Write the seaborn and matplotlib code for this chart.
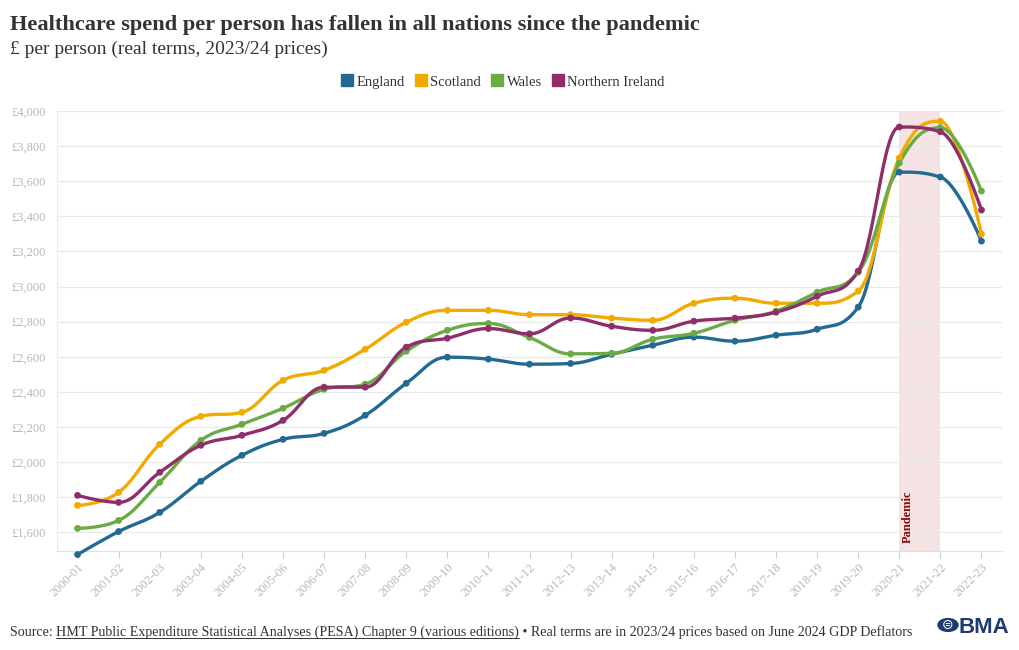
import numpy as np
import pandas as pd
import matplotlib
matplotlib.use("Agg")
import matplotlib.pyplot as plt
import seaborn as sns
from matplotlib.lines import Line2D
from matplotlib.patches import Circle

# ---------------- data ----------------
years = ["2000-01", "2001-02", "2002-03", "2003-04", "2004-05", "2005-06", "2006-07",
         "2007-08", "2008-09", "2009-10", "2010-11", "2011-12", "2012-13", "2013-14",
         "2014-15", "2015-16", "2016-17", "2017-18", "2018-19", "2019-20", "2020-21",
         "2021-22", "2022-23"]
england = [1474, 1605, 1714, 1891, 2039, 2130, 2164, 2267, 2449, 2598, 2587, 2558,
           2562, 2615, 2666, 2712, 2689, 2723, 2757, 2883, 3652, 3624, 3259]
scotland = [1754, 1828, 2102, 2261, 2284, 2466, 2523, 2643, 2797, 2865, 2865, 2840,
            2840, 2820, 2808, 2905, 2934, 2905, 2905, 2974, 3732, 3942, 3299]
wales = [1623, 1668, 1885, 2124, 2216, 2307, 2415, 2444, 2632, 2751, 2790, 2710,
         2617, 2620, 2700, 2734, 2808, 2860, 2968, 3082, 3704, 3905, 3544]
northern_ireland = [1811, 1771, 1942, 2096, 2153, 2238, 2427, 2427, 2655, 2706, 2761,
                    2731, 2821, 2774, 2751, 2803, 2820, 2854, 2945, 3088, 3909, 3882, 3436]
nations = ["England", "Scotland", "Wales", "Northern Ireland"]
colors = ["#236a93", "#f0ab00", "#6aab46", "#8e2e6b"]
yticks = [1600, 1800, 2000, 2200, 2400, 2600, 2800, 3000, 3200, 3400, 3600, 3800, 4000]
pandemic_start, pandemic_end = "2020-21", "2021-22"

series = dict(zip(nations, [england, scotland, wales, northern_ireland]))


def hc_spline(xs, ys, n=30):
    """Highcharts-style spline (cubic Bezier with smoothing 1.5)."""
    m = len(xs)
    sm = 1.5
    den = sm + 1
    lc = [None] * m
    rc = [None] * m
    for i in range(1, m - 1):
        px, py = xs[i], ys[i]
        lx, ly = xs[i - 1], ys[i - 1]
        nx, ny = xs[i + 1], ys[i + 1]
        lcx = (sm * px + lx) / den
        lcy = (sm * py + ly) / den
        rcx = (sm * px + nx) / den
        rcy = (sm * py + ny) / den
        if rcx != lcx:
            corr = ((rcy - lcy) * (rcx - px)) / (rcx - lcx) + py - rcy
            lcy += corr
            rcy += corr
        if lcy > ly and lcy > py:
            lcy = max(ly, py)
            rcy = 2 * py - lcy
        elif lcy < ly and lcy < py:
            lcy = min(ly, py)
            rcy = 2 * py - lcy
        if rcy > ny and rcy > py:
            rcy = max(ny, py)
            lcy = 2 * py - rcy
        elif rcy < ny and rcy < py:
            rcy = min(ny, py)
            lcy = 2 * py - rcy
        lc[i] = (lcx, lcy)
        rc[i] = (rcx, rcy)
    outx, outy = [xs[0]], [ys[0]]
    t = np.linspace(0, 1, n)[1:]
    for i in range(1, m):
        p0 = np.array([xs[i - 1], ys[i - 1]], float)
        p3 = np.array([xs[i], ys[i]], float)
        p1 = np.array(rc[i - 1], float) if rc[i - 1] is not None else p0
        p2 = np.array(lc[i], float) if lc[i] is not None else p3
        b = ((1 - t) ** 3)[:, None] * p0 + (3 * (1 - t) ** 2 * t)[:, None] * p1 \
            + (3 * (1 - t) * t ** 2)[:, None] * p2 + (t ** 3)[:, None] * p3
        outx.extend(b[:, 0])
        outy.extend(b[:, 1])
    return np.array(outx), np.array(outy)


xpos = np.arange(len(years))
pts = pd.DataFrame([(x, v, nat) for nat in nations for x, v in zip(xpos, series[nat])],
                   columns=["x", "value", "nation"])
dense_rows = []
for nat in nations:
    dx, dy = hc_spline(xpos, np.array(series[nat], float))
    for a, b in zip(dx, dy):
        dense_rows.append((a, b, nat))
dense = pd.DataFrame(dense_rows, columns=["x", "value", "nation"])

# ---------------- figure ----------------
sns.set_theme(style="white")
plt.rcParams["font.family"] = ["Liberation Serif", "DejaVu Serif"]

W, H = 1020, 650
fig = plt.figure(figsize=(W / 100, H / 100), dpi=100)
ax = fig.add_axes([57 / W, 1 - 550.5 / H, (1002 - 57) / W, (550.5 - 111) / H])

pal = dict(zip(nations, colors))
ps = years.index(pandemic_start)
pe = years.index(pandemic_end)
ax.axvspan(ps, pe, color="#f5e3e3", zorder=0.3, lw=0)

sns.lineplot(data=dense, x="x", y="value", hue="nation", palette=pal, sort=False,
             estimator=None, legend=False, lw=2.4, ax=ax, zorder=3, clip_on=False)
sns.scatterplot(data=pts, x="x", y="value", hue="nation", palette=pal, s=24,
                edgecolor="none", legend=False, ax=ax, zorder=4, clip_on=False)

ax.text(ps + 0.2, 1540, "Pandemic", rotation=90, color="#8b0a0a", fontsize=9,
        fontweight="bold", va="bottom", ha="center", zorder=5)

ax.set_xlim(-0.5, len(years) - 0.5)
ax.set_ylim(1497, 4000)
ax.set_xticks(xpos)
ax.set_xticklabels(years, rotation=45, ha="right", rotation_mode="anchor")
ax.set_yticks(yticks)
ax.set_yticklabels([f"£{v:,}" for v in yticks])
ax.tick_params(axis="x", colors="#d0d0d0", labelcolor="#b8b8b8", labelsize=9,
               length=5, width=0.8, direction="out", bottom=True, pad=3)
ax.tick_params(axis="y", labelcolor="#b8b8b8", labelsize=9, length=0, pad=8)
ax.set_xlabel("")
ax.set_ylabel("")
ax.set_axisbelow(True)
ax.grid(axis="y", color="#e8e8e8", lw=0.8)
ax.grid(axis="x", visible=False)
for s in ["top", "right"]:
    ax.spines[s].set_visible(False)
ax.spines["left"].set_color("#ececec")
ax.spines["bottom"].set_color("#e0e0e0")
ax.spines["left"].set_linewidth(0.8)
ax.spines["bottom"].set_linewidth(0.8)

# titles
fig.text(10 / W, 1 - 30 / H, "Healthcare spend per person has fallen in all nations since the pandemic",
         fontsize=16.1, fontweight="bold", color="#333333", va="baseline", ha="left")
fig.text(10 / W, 1 - 54 / H, "£ per person (real terms, 2023/24 prices)",
         fontsize=14, color="#333333", va="baseline", ha="left")

# legend
handles = [Line2D([0], [0], marker="s", color="none", markerfacecolor=c, markeredgecolor=c,
                  markersize=9) for c in colors]
fig.legend(handles, nations, loc="center", bbox_to_anchor=(503 / W, 1 - 82 / H), ncol=4,
           frameon=False, fontsize=10.5, handlelength=0.8, handletextpad=0.25,
           columnspacing=0.7, labelcolor="#333333")

# footer
fig.canvas.draw()
r = fig.canvas.get_renderer()
fy = 1 - 636 / H
fkw = dict(fontsize=10.05, color="#333333", va="baseline", ha="left")
t1 = fig.text(10 / W, fy, "Source: ", **fkw)
bb = t1.get_window_extent(r)
t2 = fig.text(bb.x1 / W, fy, "HMT Public Expenditure Statistical Analyses (PESA) Chapter 9 (various editions)", **fkw)
bb2 = t2.get_window_extent(r)
fig.add_artist(Line2D([bb2.x0 / W, bb2.x1 / W], [fy - 2 / H, fy - 2 / H], color="#333333", lw=0.7))
fig.text(bb2.x1 / W, fy, " • Real terms are in 2023/24 prices based on June 2024 GDP Deflators", **fkw)

# BMA logo
fig.add_artist(Circle((948 / W, 1 - 625 / H), 10 / W, transform=fig.transFigure,
                      color="#1f3a70"))
fig.text(948 / W, 1 - 625 / H, "⊜", fontsize=10, color="white", ha="center", va="center",
         family=["DejaVu Sans"])
fig.text(959 / W, 1 - 633 / H, "BMA", fontsize=16, fontweight="bold", color="#1f3a70",
         va="baseline", ha="left", family=["Liberation Sans", "DejaVu Sans"])

fig.savefig("out.png", dpi=100)
